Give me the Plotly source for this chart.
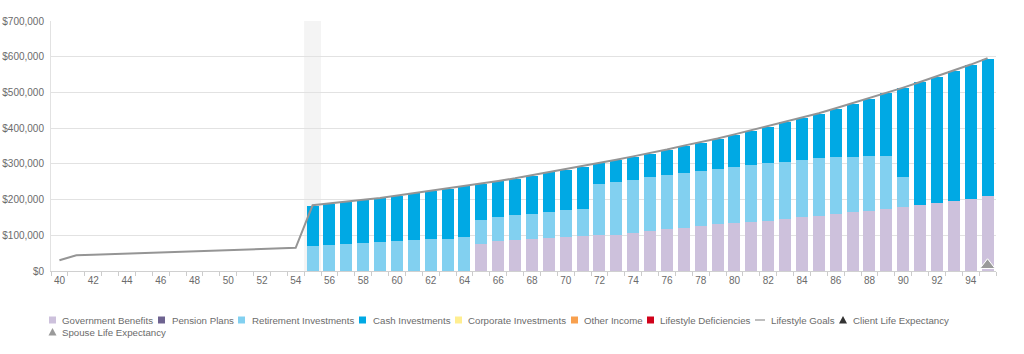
import plotly.graph_objects as go

ages = list(range(40, 96))
retire_age = 55

# values in $ thousands, ages 55..95
bar_ages = list(range(55, 96))
government_benefits = [0, 0, 0, 0, 0, 0, 0, 0, 0, 0,
                       75.6, 84.9, 87.7, 89.6, 91.5, 96.1, 98.9, 99.9, 101.7, 106.4,
                       113.4, 118.5, 121.3, 125.1, 130.7, 134.4, 137.2, 140.9, 145.6, 150.3,
                       155.4, 159.6, 164.3, 169.0, 174.6, 180.1, 184.8, 191.3, 196.0, 202.5, 210.0]
pension_plans = [0] * 41
retirement_investments = [71.0, 72.8, 75.6, 78.4, 81.2, 83.0, 85.9, 88.7, 90.5, 94.3,
                          66.3, 66.3, 68.2, 70.9, 73.7, 73.8, 75.6, 144.6, 147.5, 149.3,
                          149.4, 151.2, 153.1, 155.8, 155.8, 157.6, 159.6, 160.6, 160.4, 161.3,
                          160.6, 158.7, 155.8, 153.9, 148.3, 83.1, 0, 0, 0, 0, 0]
cash_investments = [112.0, 114.8, 116.7, 120.4, 122.3, 127.0, 131.6, 135.3, 140.0, 143.7,
                    101.7, 99.8, 102.6, 106.4, 111.1, 113.8, 117.5, 57.0, 61.6, 64.3,
                    66.2, 69.1, 75.6, 78.4, 83.1, 89.7, 96.1, 102.6, 110.3, 117.7,
                    124.5, 136.2, 148.4, 159.6, 175.5, 249.2, 343.5, 352.8, 364.0, 374.3, 384.5]
corporate_investments = [0] * 41
other_income = [0] * 41
lifestyle_deficiencies = [0] * 41

lifestyle_goals = [30.0, 44.0, 45.5, 47.0, 48.5, 50.0, 51.0, 52.5, 54.0, 55.5,
                   57.0, 59.0, 61.0, 63.0, 65.0,
                   184.0, 188.5, 193.5, 199.5, 204.5, 211.0, 218.0, 224.5, 231.5, 238.5,
                   245.0, 252.0, 259.5, 268.0, 277.0, 284.5, 293.0, 302.5, 311.5, 321.0,
                   330.0, 340.0, 351.0, 360.5, 371.0, 382.5, 394.0, 405.5, 417.5, 430.0,
                   441.5, 455.5, 469.5, 483.5, 499.0, 513.5, 529.0, 545.0, 561.0, 578.0, 596.0]

client_life_expectancy = 95
spouse_life_expectancy = 95

y_ticks = [0, 100000, 200000, 300000, 400000, 500000, 600000, 700000]
y_tick_labels = ["$0", "$100,000", "$200,000", "$300,000", "$400,000",
                 "$500,000", "$600,000", "$700,000"]
x_tick_labels = list(range(40, 96, 2))

COL = {
    "Government Benefits": "#CDC1DC",
    "Pension Plans": "#6E6390",
    "Retirement Investments": "#82D0F0",
    "Cash Investments": "#00A9E4",
    "Corporate Investments": "#FFEE90",
    "Other Income": "#F8A04E",
    "Lifestyle Deficiencies": "#D0021B",
}
K = 1000
series = [
    ("Government Benefits", government_benefits),
    ("Pension Plans", pension_plans),
    ("Retirement Investments", retirement_investments),
    ("Cash Investments", cash_investments),
    ("Corporate Investments", corporate_investments),
    ("Other Income", other_income),
    ("Lifestyle Deficiencies", lifestyle_deficiencies),
]

fig = go.Figure()
for name, vals in series:
    fig.add_trace(go.Bar(x=bar_ages, y=[v * K for v in vals], name=name,
                         marker=dict(color=COL[name], line=dict(width=0)),
                         showlegend=False))

fig.add_trace(go.Scatter(x=ages, y=[v * K for v in lifestyle_goals], mode="lines",
                         name="Lifestyle Goals", line=dict(color="#959595", width=2),
                         showlegend=False))

tri_y = 16000
fig.add_trace(go.Scatter(x=[client_life_expectancy], y=[tri_y], mode="markers",
                         name="Client Life Expectancy",
                         marker=dict(symbol="triangle-up", size=13, color="#333333",
                                     line=dict(color="white", width=1)), showlegend=False))
fig.add_trace(go.Scatter(x=[spouse_life_expectancy], y=[tri_y], mode="markers",
                         name="Spouse Life Expectancy",
                         marker=dict(symbol="triangle-up", size=13, color="#9A9A9A",
                                     line=dict(color="white", width=1)), showlegend=False))

L, T, B = 51, 21, 271
shapes = [dict(type="rect", xref="x", yref="paper", x0=retire_age - 0.5, x1=retire_age + 0.5,
               y0=0, y1=1, fillcolor="#F4F4F4", line=dict(width=0), layer="below")]
annotations = []
TXT = "#6B6B6B"
FONT = "Liberation Sans, Arial, sans-serif"


def px(xp):
    return xp - L


def py(yp):
    return B - yp


legend_items = [
    # (label, kind, color, marker_x_page, text_x_page, y_page)
    ("Government Benefits", "sq", COL["Government Benefits"], 49, 61, 320),
    ("Pension Plans", "sq", COL["Pension Plans"], 158, 170.5, 320),
    ("Retirement Investments", "sq", COL["Retirement Investments"], 238, 250.5, 320),
    ("Cash Investments", "sq", COL["Cash Investments"], 359, 371.5, 320),
    ("Corporate Investments", "sq", COL["Corporate Investments"], 455, 466.5, 320),
    ("Other Income", "sq", COL["Other Income"], 571, 582.5, 320),
    ("Lifestyle Deficiencies", "sq", COL["Lifestyle Deficiencies"], 647, 659, 320),
    ("Lifestyle Goals", "line", "#A8A8A8", 755, 770, 320),
    ("Client Life Expectancy", "tri", "#333333", 839, 851.5, 320),
    ("Spouse Life Expectancy", "tri", "#9A9A9A", 48.5, 61, 332),
]
for label, kind, color, mx, tx, yc in legend_items:
    if kind == "sq":
        shapes.append(dict(type="rect", xref="paper", yref="paper", xsizemode="pixel",
                           ysizemode="pixel", xanchor=0, yanchor=0,
                           x0=px(mx), x1=px(mx + 7), y0=py(yc - 3.5), y1=py(yc + 3.5),
                           fillcolor=color, line=dict(width=0)))
    elif kind == "line":
        shapes.append(dict(type="line", xref="paper", yref="paper", xsizemode="pixel",
                           ysizemode="pixel", xanchor=0, yanchor=0,
                           x0=px(mx), x1=px(mx + 10), y0=py(yc), y1=py(yc),
                           line=dict(color=color, width=1.5)))
    else:
        x0, x1, xm = px(mx), px(mx + 8), px(mx + 4)
        y0, y1 = py(yc + 3.5), py(yc - 4)
        shapes.append(dict(type="path", xref="paper", yref="paper", xsizemode="pixel",
                           ysizemode="pixel", xanchor=0, yanchor=0,
                           path=f"M{x0},{y0} L{x1},{y0} L{xm},{y1} Z",
                           fillcolor=color, line=dict(width=0)))
    annotations.append(dict(text=label, xref="paper", yref="paper", x=0, y=0,
                            xshift=px(tx), yshift=py(yc), xanchor="left", yanchor="middle",
                            showarrow=False, font=dict(size=9.7, color=TXT, family=FONT),
                            borderpad=0))

fig.update_layout(
    width=1024, height=354,
    margin=dict(l=L, r=28, t=T, b=354 - B, pad=0, autoexpand=False),
    paper_bgcolor="white", plot_bgcolor="white",
    barmode="stack", bargap=0.286,
    font=dict(family=FONT, size=10, color=TXT),
    showlegend=False,
    shapes=shapes, annotations=annotations,
    xaxis=dict(range=[39.5, 95.5], tickmode="array", tickvals=x_tick_labels,
               ticktext=[str(v) for v in x_tick_labels], ticks="", showgrid=False,
               showline=True, linecolor="#D0D0D0", linewidth=1, zeroline=False,
               automargin=False, tickfont=dict(size=10, color=TXT),
               minor=dict(tick0=39.5, dtick=1, ticks="outside", ticklen=4,
                          tickcolor="#CCCCCC", tickwidth=1, showgrid=False)),
    yaxis=dict(range=[0, 700000], tickmode="array", tickvals=y_ticks,
               ticktext=y_tick_labels, showgrid=True, gridcolor="#E2E2E2",
               gridwidth=1, zeroline=False, showline=True, linecolor="#E2E2E2",
               automargin=False, ticks="", tickfont=dict(size=10, color=TXT),
               ticklabelstandoff=4),
)

fig.write_html("out.html")
